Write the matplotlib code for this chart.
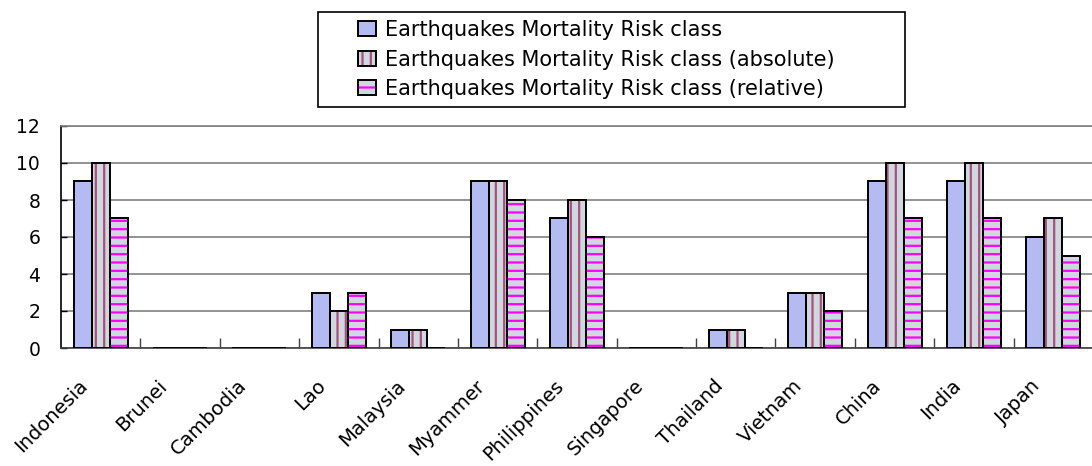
import numpy as np
import matplotlib
matplotlib.use("Agg")
import matplotlib.pyplot as plt
import matplotlib.transforms as mtransforms
from matplotlib.patches import Rectangle
from matplotlib.legend_handler import HandlerTuple

# data
countries = ["Indonesia", "Brunei", "Cambodia", "Lao", "Malaysia", "Myammer",
             "Philippines", "Singapore", "Thailand", "Vietnam", "China", "India", "Japan"]
risk_class = [9, 0, 0, 3, 1, 9, 7, 0, 1, 3, 9, 9, 6]
risk_absolute = [10, 0, 0, 2, 1, 9, 8, 0, 1, 3, 10, 10, 7]
risk_relative = [7, 0, 0, 3, 0, 8, 6, 0, 0, 2, 7, 7, 5]
series_names = ["Earthquakes Mortality Risk class",
                "Earthquakes Mortality Risk class (absolute)",
                "Earthquakes Mortality Risk class (relative)"]

plt.rcParams['font.family'] = ['DejaVu Sans']
plt.rcParams['hatch.linewidth'] = 1.6

W, H = 1092, 466
fig = plt.figure(figsize=(W/100, H/100), dpi=100)
ax = fig.add_axes([61/W, 118/H, 1032/W, 222/H])

x = np.arange(len(countries))
bw = 0.227

# face colour, hatch, hatch colour
styles = [("#b4baf2", "", "#b4baf2"),
          ("#cfd7df", "||", "#a8507c"),
          ("#cfd7df", "--", "#ff00ff")]

handles = []
for i, vals in enumerate([risk_class, risk_absolute, risk_relative]):
    fc, hatch, hc = styles[i]
    pos = x + (i - 1) * bw
    b1 = ax.bar(pos, vals, bw, color=fc, edgecolor=hc, hatch=hatch, linewidth=0, zorder=3)
    b2 = ax.bar(pos, vals, bw, fill=False, edgecolor="black", linewidth=1.4, zorder=4)
    handles.append((b1.patches[0], b2.patches[0]))

ax.set_xlim(-0.5, len(countries) - 0.5)
ax.set_ylim(0, 12)
ax.set_yticks(range(0, 13, 2))
ax.yaxis.grid(True, color="#808080", linewidth=1.2, zorder=0)
ax.set_axisbelow(True)

ax.spines["right"].set_visible(False)
ax.spines["top"].set_color("#808080")
ax.spines["top"].set_linewidth(1.2)
ax.spines["left"].set_linewidth(1.2)
ax.spines["bottom"].set_linewidth(1.2)
ax.spines["bottom"].set_color("#404040")

ax.tick_params(axis="y", direction="in", length=4, labelsize=13.5, pad=15, width=1)
ax.set_xticks(x)
ax.set_xticks(np.arange(0.5, len(countries) - 0.5), minor=True)
ax.tick_params(axis="x", which="major", length=0, labelsize=14)
ax.tick_params(axis="x", which="minor", direction="in", length=7, width=1, color="#404040")
ax.set_xticklabels(countries, rotation=45, ha="right", va="center", rotation_mode="anchor")
offset = mtransforms.ScaledTranslation(-0.16, -0.30, fig.dpi_scale_trans)
for lab in ax.get_xticklabels():
    lab.set_transform(lab.get_transform() + offset)

# legend box
fig.patches.append(Rectangle((318/W, 1 - 107/H), (905 - 318)/W, 95/H,
                             transform=fig.transFigure, fill=False,
                             edgecolor="black", linewidth=1.2))
fig.legend(handles, series_names, loc="upper left",
           bbox_to_anchor=(358/W, 1 - 20/H), frameon=False, fontsize=15,
           borderpad=0, borderaxespad=0, handlelength=0.87, handleheight=0.72,
           handletextpad=0.43, labelspacing=0.46,
           handler_map={tuple: HandlerTuple(ndivide=1)})

fig.savefig("out.png", dpi=100)
